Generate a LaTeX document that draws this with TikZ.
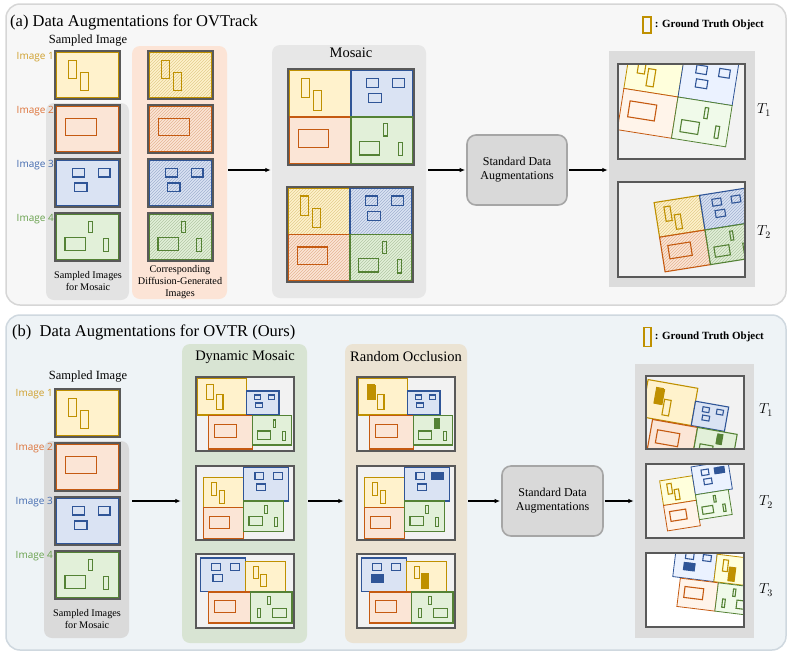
\documentclass[tikz,border=0pt]{standalone}
\usepackage{fontspec}
\setmainfont{Liberation Serif}
\newfontfamily\labelfont{Open Sans}
\usetikzlibrary{arrows.meta,patterns,positioning}

\definecolor{Yline}{HTML}{BF9000}
\definecolor{Yfill}{HTML}{FFF2CC}
\definecolor{Ylight}{HTML}{FFFFDC}
\definecolor{Ytext}{HTML}{CF9F2A}
\definecolor{Oline}{HTML}{C55A11}
\definecolor{Ofill}{HTML}{FBE5D6}
\definecolor{Olight}{HTML}{FFF4EA}
\definecolor{Otext}{HTML}{DD7238}
\definecolor{Bline}{HTML}{2F5597}
\definecolor{Bfill}{HTML}{DAE3F3}
\definecolor{Blight}{HTML}{EBF2FF}
\definecolor{Btext}{HTML}{4068AE}
\definecolor{Gline}{HTML}{548235}
\definecolor{Gfill}{HTML}{E2F0D9}
\definecolor{Glight}{HTML}{F0FAEA}
\definecolor{Gtext}{HTML}{67A04B}
\definecolor{framegray}{HTML}{595959}
\definecolor{screengray}{HTML}{F2F2F2}
\definecolor{panelAfill}{HTML}{F7F7F7}
\definecolor{panelAline}{HTML}{D6D6D6}
\definecolor{panelBfill}{HTML}{EEF3F6}
\definecolor{panelBline}{HTML}{CFD8DF}
\definecolor{grayA}{HTML}{E3E3E3}
\definecolor{grayB}{HTML}{DADADA}
\definecolor{peach}{HTML}{FCE4D6}
\definecolor{mosaicbg}{HTML}{E7E7E7}
\definecolor{outbg}{HTML}{DCDCDC}
\definecolor{dmbg}{HTML}{D8E4D3}
\definecolor{robg}{HTML}{EBE3D3}
\definecolor{augfill}{HTML}{D9D9D9}
\definecolor{augline}{HTML}{A6A6A6}

\tikzset{
  flat/.style={draw=#1line, fill=#1fill, line width=1.1pt},
  hatched/.style={draw=#1line, line width=1.1pt, preaction={fill=#1fill},
    pattern=north east lines, pattern color=#1line!45},
  faded/.style={draw=#1line, fill=#1light, line width=0.8pt},
  gtbox/.style={draw=#1line, line width=1.1pt},
  occluded/.style={fill=#1line},
  imgframe/.style={draw=framegray, line width=2.6pt},
  screenbg/.style={fill=screengray},
  colbg/.style={rounded corners=8pt, inner sep=0pt},
  augbox/.style={draw=augline, fill=augfill, line width=1.6pt, rounded corners=9pt,
    align=center, inner sep=0pt, font=\fontsize{12}{14}\selectfont},
  flow/.style={-{Latex[length=5.5pt,width=4.5pt]}, line width=1.3pt,
    shorten <=1pt, shorten >=1pt},
  heading/.style={anchor=base west, inner sep=0pt, font=\fontsize{16.5}{20}\selectfont},
  subhead/.style={font=\fontsize{12.5}{15}\selectfont},
  colhead/.style={font=\fontsize{14.5}{17}\selectfont},
  caption/.style={align=center, font=\fontsize{10.2}{11.6}\selectfont},
  imglabel/.style={anchor=east, inner sep=0pt, font=\labelfont\fontsize{10}{12}\selectfont},
  tlabel/.style={font=\fontsize{14}{16}\selectfont},
  legend/.style={inner sep=0pt, font=\bfseries\fontsize{11}{13}\selectfont},
}

% ground truth objects of each image, in a 64x48 tile
\newcommand{\gtY}{\draw[gtbox=Y] (12.5,8) rectangle (21,28) (25,21) rectangle (33.5,41);}
\newcommand{\gtO}{\draw[gtbox=O] (9.5,13) rectangle (41,31.5);}
\newcommand{\gtB}{\draw[gtbox=B] (16,8) rectangle (28.5,17.5) (43,8) rectangle (55.5,17.5)
  (18,24) rectangle (31.5,33.5);}
\newcommand{\gtG}{\draw[gtbox=G] (33.5,7) rectangle (37.5,19.5) (8.5,25) rectangle (29.5,39)
  (49,26) rectangle (53.5,40);}

% one image tile: [look]{colour}{x}{y}{width}{height}
\newcommand{\tile}[6][flat]{%
  \begin{scope}[shift={(#3,#4)}, xscale=#5/64, yscale=#6/48]
    \draw[#1=#2] (0,0) rectangle (64,48);
    \csname gt#2\endcsname
  \end{scope}}

\newcommand{\photo}[4][flat]{%
  \draw[imgframe] (#3,#4) rectangle ++(65,48);
  \tile[#1]{#2}{#3+1.8}{#4+1.8}{61.4}{44.4}}

\newcommand{\mosaic}[1]{%
  \tile[#1]{Y}{0}{0}{63}{48}
  \tile[#1]{B}{63}{0}{63}{48}
  \tile[#1]{O}{0}{48}{63}{48}
  \tile[#1]{G}{63}{48}{63}{48}}

% dynamic mosaic layouts
\newcommand{\sceneA}[1]{%
  \tile[#1]{Y}{1.3}{1.3}{49}{36.7}
  \tile[#1]{B}{50.3}{14}{32.7}{24}
  \tile[#1]{O}{12.3}{38.7}{44.4}{33.3}
  \tile[#1]{G}{56.7}{38.7}{39}{29.3}}
\newcommand{\sceneB}[1]{%
  \tile[#1]{Y}{7.7}{11.7}{40}{30}
  \tile[#1]{B}{47.7}{1}{45}{34}
  \tile[#1]{O}{7.7}{41.7}{40}{31}
  \tile[#1]{G}{47.7}{35}{40}{30.3}}
\newcommand{\sceneC}[1]{%
  \tile[#1]{B}{4.3}{4}{45}{33.3}
  \tile[#1]{Y}{49.3}{7.3}{40}{30}
  \tile[#1]{O}{12.7}{38}{41.6}{31}
  \tile[#1]{G}{96}{38}{-41.7}{31}}

% random occlusions
\newcommand{\occA}{\fill[occluded=Y] (11,7.7) rectangle (19.3,23.3);
  \fill[occluded=G] (76.7,41) rectangle (82.7,51.7);}
\newcommand{\occB}{\fill[occluded=B] (74.3,6) rectangle (87,14.3);}
\newcommand{\occC}{\fill[occluded=B] (14.3,20) rectangle (27.2,29);
  \fill[occluded=Y] (63.7,19) rectangle (71.7,35);}

\newcommand{\dmframe}[3]{%
  \fill[screenbg] (#1,#2) rectangle ++(98,74);
  \begin{scope}[shift={(#1,#2)}]#3\end{scope}
  \draw[imgframe] (#1,#2) rectangle ++(98,74);}

\begin{document}
\begin{tikzpicture}[x=1pt, y=-1pt]
\useasboundingbox (0,0) rectangle (789,657);
\fill[white] (0,0) rectangle (789,657);
\draw[fill=panelAfill, draw=panelAline, line width=1.5pt, rounded corners=14pt] (6,4) rectangle (786,305);
\draw[fill=panelBfill, draw=panelBline, line width=1.5pt, rounded corners=14pt] (6,315) rectangle (786,650);

%% (a) OVTrack
\node[heading] (titleA) at (10,26) {(a) Data Augmentations for OVTrack};
\node[colbg, fill=grayA, minimum width=83pt, minimum height=197pt] (sampA) at (87.5,201.5) {};
\node[colbg, fill=peach, minimum width=95pt, minimum height=253pt] (diffA) at (179.5,172.5) {};
\node[colbg, fill=mosaicbg, minimum width=154pt, minimum height=253pt] (mosA) at (349,171.5) {};
\node[augbox, minimum width=100pt, minimum height=70pt] (sdaA) at (517,170) {Standard Data\\Augmentations};
\node[colbg, sharp corners, fill=outbg, minimum width=146pt, minimum height=236pt] (outA) at (682,169) {};

\foreach \clr/\row [count=\i] in {Y/51,O/105,B/159,G/213}{
  \photo{\clr}{55}{\row}
  \photo[hatched]{\clr}{148}{\row}
  \node[imglabel, text=\clr text] (labA\i) at (54,\row+6) {Image \i};
}

\draw[imgframe] (288,69) rectangle (414,165);
\begin{scope}[shift={(289.3,70.3)}, xscale=123.4/126, yscale=93.4/96] \mosaic{flat} \end{scope}
\draw[imgframe] (287,187) rectangle (413,282);
\begin{scope}[shift={(288.3,188.3)}, xscale=123.4/126, yscale=92.4/96] \mosaic{hatched} \end{scope}

\fill[screenbg] (618,64) rectangle (745,159);
\begin{scope}
  \clip (618,64) rectangle (745,159);
  \begin{scope}[shift={(678,97)}, rotate=-9, scale=0.87, shift={(-63,-48)}] \mosaic{faded} \end{scope}
\end{scope}
\draw[imgframe] (618,64) rectangle (745,159);
\fill[screenbg] (618,182) rectangle (745,277);
\begin{scope}
  \clip (618,182) rectangle (745,277);
  \begin{scope}[shift={(705,230)}, rotate=9, scale=0.73, shift={(-63,-48)}] \mosaic{hatched} \end{scope}
\end{scope}
\draw[imgframe] (618,182) rectangle (745,277);

\node[subhead] (sampHeadA) at (88,41) {Sampled Image};
\node[caption] (sampCapA) at (88,281) {Sampled Images\\for Mosaic};
\node[caption] (diffCap) at (180,282) {Corresponding\\Diffusion-Generated\\Images};
\node[colhead] (mosHead) at (351,53) {Mosaic};
\node[tlabel] (tA1) at (764,110) {$T_1$};
\node[tlabel] (tA2) at (764,232) {$T_2$};
\node[draw=Yline, line width=1.3pt, minimum width=8pt, minimum height=16pt, inner sep=0pt] (gtA) at (647,25) {};
\node[legend, right=3pt of gtA] (legA) {: Ground Truth Object};

\draw[flow] (diffA.east |- sdaA) -- (mosA.west |- sdaA);
\draw[flow, shorten <=2pt] (mosA.east |- sdaA) -- (sdaA);
\draw[flow] (sdaA) -- (outA.west |- sdaA);

%% (b) OVTR
\node[heading] (titleB) at (12,336) {(b)\ \ Data Augmentations for OVTR (Ours)};
\node[colbg, fill=grayB, minimum width=85pt, minimum height=197pt] (sampB) at (86.5,539.5) {};
\node[colbg, fill=dmbg, minimum width=125pt, minimum height=299pt] (dmB) at (244.5,493.5) {};
\node[colbg, fill=robg, minimum width=122pt, minimum height=299pt] (roB) at (406,493.5) {};
\node[augbox, minimum width=101pt, minimum height=70pt] (sdaB) at (552.5,501) {Standard Data\\Augmentations};
\node[colbg, sharp corners, fill=outbg, minimum width=119pt, minimum height=274pt] (outB) at (694.5,501) {};

\foreach \clr/\row [count=\i] in {Y/389,O/443,B/497,G/551}{
  \photo{\clr}{55}{\row}
  \node[imglabel, text=\clr text] (labB\i) at (53,\row+5) {Image \i};
}

\dmframe{196}{377}{\sceneA{flat}}
\dmframe{196}{466}{\sceneB{flat}}
\dmframe{196}{554}{\sceneC{flat}}
\dmframe{357}{377}{\sceneA{flat}\occA}
\dmframe{357}{466}{\sceneB{flat}\occB}
\dmframe{357}{554}{\sceneC{flat}\occC}

\fill[screenbg] (646,376) rectangle ++(98,73);
\begin{scope}
  \clip (646,376) rectangle ++(98,73);
  \begin{scope}[shift={(647,378)}, rotate=-10, scale=1.03] \sceneA{flat}\occA \end{scope}
\end{scope}
\draw[imgframe] (646,376) rectangle ++(98,73);
\fill[screenbg] (646,464) rectangle ++(98,74);
\begin{scope}
  \clip (646,464) rectangle ++(98,74);
  \begin{scope}[shift={(651.8,472.3)}, rotate=9, scale=0.83] \sceneB{faded}\occB \end{scope}
\end{scope}
\draw[imgframe] (646,464) rectangle ++(98,74);
\fill[white] (646,553) rectangle ++(98,74);
\begin{scope}
  \clip (646,553) rectangle ++(98,74);
  \begin{scope}[shift={(673,542)}, rotate=-7, scale=0.92] \sceneC{faded}\occC \end{scope}
\end{scope}
\draw[imgframe] (646,553) rectangle ++(98,74);

\node[subhead] (sampHeadB) at (88,377) {Sampled Image};
\node[caption] (sampCapB) at (87,619) {Sampled Images\\for Mosaic};
\node[colhead] (dmHead) at (245,357) {Dynamic Mosaic};
\node[colhead] (roHead) at (406,357) {Random Occlusion};
\node[tlabel] (tB1) at (766,410) {$T_1$};
\node[tlabel] (tB2) at (766,502) {$T_2$};
\node[tlabel] (tB3) at (766,590) {$T_3$};
\node[draw=Yline, line width=1.3pt, minimum width=7pt, minimum height=19pt, inner sep=0pt] (gtB) at (647.5,337) {};
\node[legend, right=3pt of gtB] (legB) {: Ground Truth Object};

\draw[flow, shorten <=3pt] (sampB.east |- sdaB) -- (dmB.west |- sdaB);
\draw[flow] (dmB.east |- sdaB) -- (roB.west |- sdaB);
\draw[flow] (roB.east |- sdaB) -- (sdaB);
\draw[flow] (sdaB) -- (outB.west |- sdaB);
\end{tikzpicture}
\end{document}
